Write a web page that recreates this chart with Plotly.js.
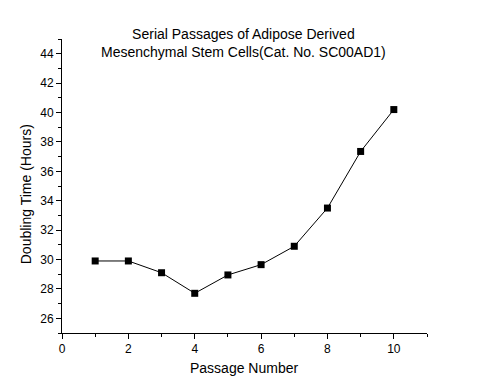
<!DOCTYPE html>
<html>
<head>
<meta charset="utf-8">
<script src="https://cdn.plot.ly/plotly-3.0.1.min.js"></script>
<style>html,body{margin:0;padding:0;background:#fff;}#chart{width:477px;height:385px;}</style>
</head>
<body>
<div id="chart"></div>
<script>
const passageNumbers = [1, 2, 3, 4, 5, 6, 7, 8, 9, 10];
const doublingTimes = [29.9, 29.9, 29.1, 27.7, 28.95, 29.65, 30.9, 33.5, 37.35, 40.2];
const chartTitle = "Serial Passages of Adipose Derived<br>Mesenchymal Stem Cells(Cat. No. SC00AD1)";
const xTitle = "Passage Number";
const yTitle = "Doubling Time (Hours)";

const FONT = "Arial, 'Liberation Sans', sans-serif";

const trace = {
  x: passageNumbers,
  y: doublingTimes,
  type: "scatter",
  mode: "lines+markers",
  line: {color: "#000", width: 1},
  marker: {symbol: "square", size: 7, color: "#000"},
  showlegend: false,
  hoverinfo: "x+y"
};

const axisCommon = {
  showgrid: false,
  zeroline: false,
  showline: true,
  linecolor: "#000",
  linewidth: 1,
  ticks: "outside",
  ticklen: 5,
  tickwidth: 1,
  tickcolor: "#000",
  tickfont: {family: FONT, size: 12, color: "#000"},
  minor: {ticks: "outside", ticklen: 3, tickwidth: 1, tickcolor: "#000", dtick: 1, showgrid: false}
};

const layout = {
  width: 477,
  height: 385,
  margin: {l: 62, r: 50, t: 38.5, b: 52},
  paper_bgcolor: "#fff",
  plot_bgcolor: "#fff",
  font: {family: FONT, color: "#000"},
  xaxis: Object.assign({}, axisCommon, {range: [0, 11], dtick: 2, tick0: 0}),
  yaxis: Object.assign({}, axisCommon, {range: [25, 45], dtick: 2, tick0: 0}),
  annotations: [
    {text: chartTitle, xref: "paper", yref: "paper", x: 0.496, y: 0.988,
     xanchor: "center", yanchor: "middle", showarrow: false,
     font: {family: FONT, size: 14, color: "#000"}},
    {text: xTitle, xref: "paper", yref: "paper", x: 0.5, y: -(368 - 333) / 294.5,
     xanchor: "center", yanchor: "middle", showarrow: false,
     font: {family: FONT, size: 14, color: "#000"}},
    {text: yTitle, xref: "paper", yref: "paper", x: -(62 - 26) / 365, y: (333 - 194) / 294.5,
     xanchor: "center", yanchor: "middle", textangle: -90, showarrow: false,
     font: {family: FONT, size: 14, color: "#000"}}
  ]
};

Plotly.newPlot("chart", [trace], layout, {displayModeBar: false, staticPlot: true});
</script>
</body>
</html>
